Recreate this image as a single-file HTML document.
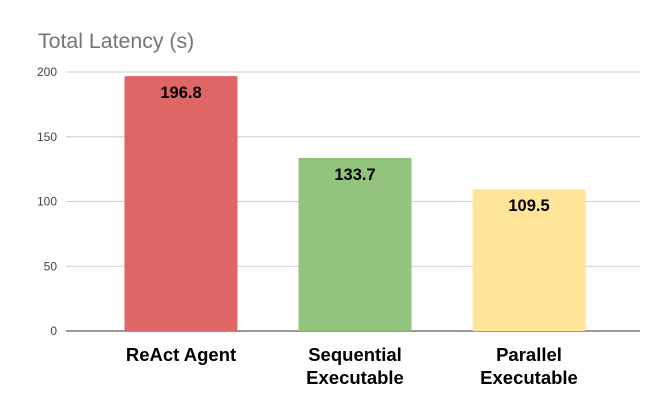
<!DOCTYPE html>
<html><head><meta charset="utf-8"><style>
body{margin:0;background:#fff;}
svg text{font-family:"Liberation Sans",Arial,sans-serif;}
</style></head><body>
<svg width="658" height="406" xmlns="http://www.w3.org/2000/svg">
<text x="38" y="48" font-size="21.3" fill="#757575">Total Latency (s)</text>
<g id="grid"></g><g id="bars"></g><g id="labels"></g>
</svg>
<script>
const categories = [["ReAct Agent"], ["Sequential","Executable"], ["Parallel","Executable"]];
const values = [196.8, 133.7, 109.5];
const valueLabels = ["196.8", "133.7", "109.5"];
const ticks = [0, 50, 100, 150, 200];
const colors = ["#e06666", "#93c47d", "#ffe599"];
const NS = "http://www.w3.org/2000/svg";
const y0 = 331, yMax = 200, h = 259, xL = 66, xR = 640;
const yScale = v => y0 - v / yMax * h;
const step = 174, firstC = 181, bw = 113;
const xC = i => firstC + i * step;
function mk(tag, attrs, parent){const e=document.createElementNS(NS,tag);for(const k in attrs)e.setAttribute(k,attrs[k]);parent.appendChild(e);return e;}
const grid=document.getElementById('grid'), bars=document.getElementById('bars'), labels=document.getElementById('labels');
ticks.forEach(t=>{
  const l=mk('line',{x1:xL,x2:xR,y1:yScale(t),y2:yScale(t),stroke:t===0?'#333':'#ccc','stroke-width':1},grid);
  
  
  const tx=mk('text',{x:57,y:yScale(t)+4,'text-anchor':'end','font-size':12,fill:'#444'},grid);
  tx.textContent=t;
  
  
});
values.forEach((v,i)=>{
  const r=mk('rect',{x:xC(i)-bw/2,y:yScale(v),width:bw,height:yScale(0)-yScale(v),fill:colors[i],rx:1},bars);
  
  
  const t=mk('text',{x:xC(i),y:yScale(v)+22,'text-anchor':'middle','font-size':16.5,'font-weight':'bold',fill:'#000'},labels);
  t.textContent=valueLabels[i];
  
  
  categories[i].forEach((line,j)=>{
    const c=mk('text',{x:xC(i),y:361+j*23,'text-anchor':'middle','font-size':18.5,'font-weight':'bold',fill:'#000'},labels);
    c.textContent=line;
    
    
  });
});
</script>
</body></html>
